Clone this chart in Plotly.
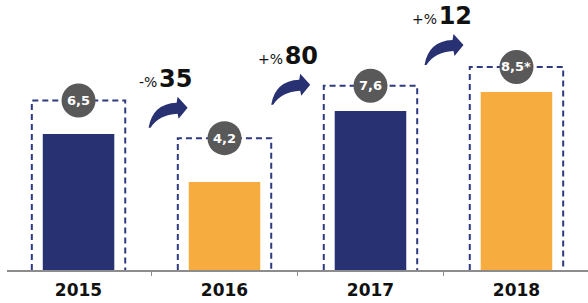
import plotly.graph_objects as go

# ---- data ----
years = ["2015", "2016", "2017", "2018"]
values = [6.5, 4.2, 7.6, 8.5]
value_labels = ["6,5", "4,2", "7,6", "8,5*"]
box_tops = [8.1, 6.3, 8.8, 9.7]          # dashed frame heights
change_signs = ["-%", "+%", "+%"]
change_pcts = [35, 80, 12]
arrow_x = [0.48, 1.32, 2.37]             # arrow anchor (category units)
arrow_y = [6.8, 7.9, 9.8]                # arrow anchor (value units)

NAVY = "#283172"
ORANGE = "#F6AC3E"
GREY = "#595959"
bar_colors = [NAVY, ORANGE, NAVY, ORANGE]
FONT = "DejaVu Sans"

fig = go.Figure()
fig.add_trace(go.Bar(
    x=years, y=values, marker=dict(color=bar_colors, line=dict(width=0)),
    width=0.49, hoverinfo="skip", showlegend=False,
))

shapes = []
annotations = []
hw = 0.32
for i, top in enumerate(box_tops):
    shapes.append(dict(
        type="path", xref="x", yref="y",
        path=f"M {i-hw},0 L {i-hw},{top} L {i+hw},{top} L {i+hw},0",
        line=dict(color="#2e3a80", width=2, dash="6px,4px"),
        layer="above",
    ))
    shapes.append(dict(
        type="circle", xref="x", yref="y",
        xsizemode="pixel", ysizemode="pixel",
        xanchor=i, yanchor=top, x0=-17, x1=17, y0=-17, y1=17,
        fillcolor=GREY, line=dict(width=0), layer="above",
    ))
    annotations.append(dict(
        x=i, y=top, xref="x", yref="y", text=f"<b>{value_labels[i]}</b>",
        showarrow=False, font=dict(family=FONT, size=13, color="white"),
    ))

arrow_path = "M 0,0 Q 4,24 28,25 L 29,31 L 39,20 L 30,9 L 29,14 Q 10,13 2,0 Z"
for ax_, ay_, sign, pct in zip(arrow_x, arrow_y, change_signs, change_pcts):
    shapes.append(dict(
        type="path", xref="x", yref="y",
        xsizemode="pixel", ysizemode="pixel", xanchor=ax_, yanchor=ay_,
        path=arrow_path, fillcolor=NAVY, line=dict(width=0), layer="above",
    ))
    annotations.append(dict(
        x=ax_, y=ay_, xref="x", yref="y", xshift=17, yshift=49,
        text=(f"<span style='font-size:14px'>{sign}</span>"
              f"<span style='font-size:5px'> </span><b>{pct}</b>"),
        showarrow=False, font=dict(family=FONT, size=24, color="#111111"),
    ))

fig.update_layout(
    width=588, height=303,
    margin=dict(l=7, r=0, t=0, b=33),
    paper_bgcolor="white", plot_bgcolor="white",
    shapes=shapes, annotations=annotations,
    xaxis=dict(
        type="category", range=[-0.49, 3.49],
        showline=True, linecolor="#8c8c8c", linewidth=2,
        ticks="outside", tickson="boundaries", ticklen=4,
        tickcolor="#8c8c8c", tickwidth=1, ticklabelstandoff=4,
        tickfont=dict(family=FONT, size=17, color="#111111", weight="bold"),
        showgrid=False, zeroline=False,
    ),
    yaxis=dict(range=[0, 12.9], visible=False, showgrid=False, zeroline=False),
)

fig.write_html("out.html", config={"displayModeBar": False},
               post_script="document.body.style.margin='0';")
